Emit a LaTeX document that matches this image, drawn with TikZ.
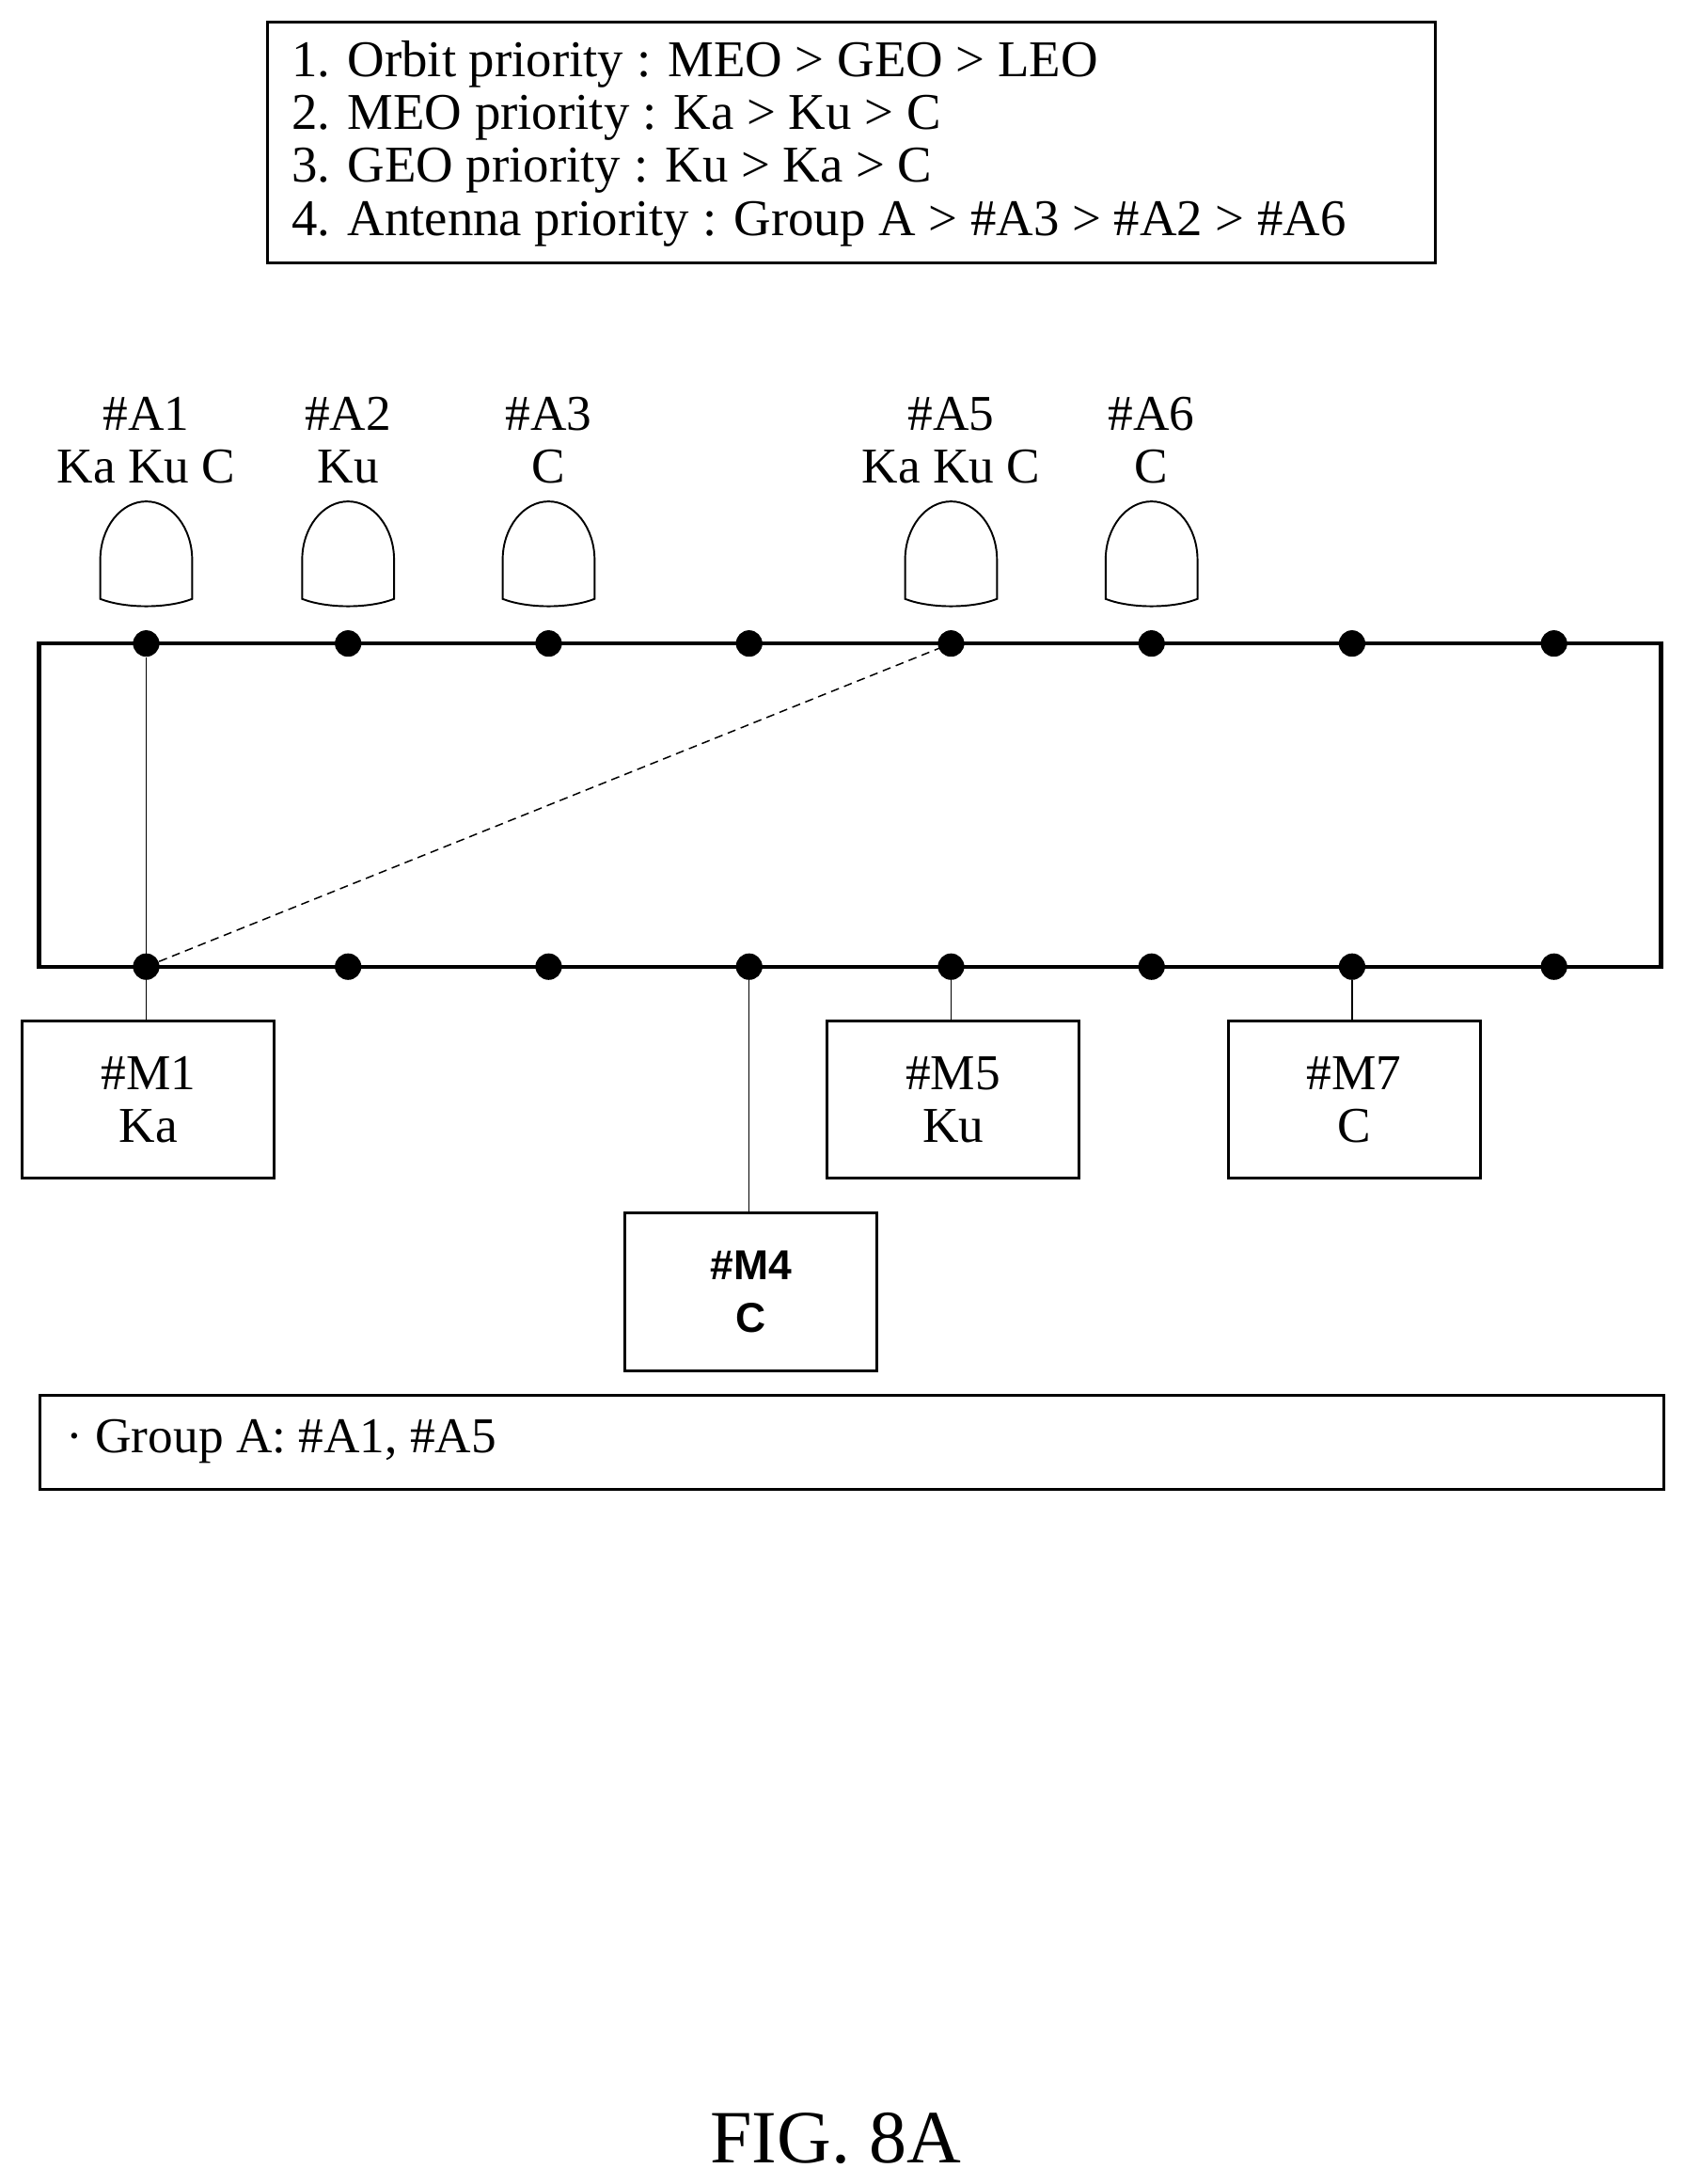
\documentclass[tikz,border=0pt]{standalone}
\usepackage{fontspec}
\setmainfont{Liberation Serif}
\newfontfamily\boldsans{Liberation Sans}
\begin{document}
\begin{tikzpicture}[x=1pt,y=-1pt,
  txt/.style={font=\fontsize{36}{38}\selectfont,align=center},
  box/.style={draw,line width=2pt,minimum width=181pt,minimum height=113pt,anchor=north west,inner sep=0pt},
  dot/.style={circle,fill=black,inner sep=0pt,minimum size=19pt},
  ant/.style={line width=1.3pt},
  link/.style={line width=1pt}]
\useasboundingbox (0,0) rectangle (1210,1568);
\node[draw,line width=2pt,minimum width=839pt,minimum height=173pt,anchor=north west,inner sep=0pt] (top) at (191,15) {};
\node[anchor=west,font=\fontsize{37}{38}\selectfont,align=left] (toptxt) at (206,103) {1. Orbit priority : MEO > GEO > LEO\\2. MEO priority : Ka > Ku > C\\3. GEO priority : Ku > Ka > C\\4. Antenna priority : Group A > \#A3 > \#A2 > \#A6};
\draw[line width=3pt] (28,462) rectangle (1193,694);
\foreach \i/\x in {1/105,2/250,3/394,4/538,5/683,6/827,7/971,8/1116}{
  \node[dot] (t\i) at (\x,462) {};
  \node[dot] (b\i) at (\x,694) {};
}
\foreach \x/\a/\b in {105/\#A1/Ka Ku C,250/\#A2/Ku,394/\#A3/C,683/\#A5/Ka Ku C,827/\#A6/C}{
  \node[txt] (lab\x) at (\x,316) {\a\\\b};
  \draw[ant] (\x-33,430) -- (\x-33,402) arc[start angle=180,end angle=360,x radius=33,y radius=42] -- (\x+33,430)
    .. controls (\x+15,437) and (\x-15,437) .. (\x-33,430) -- cycle;
}
\node[box] (m1) at (15,732) {};
\node[txt] at (m1.center) {\#M1\\Ka};
\node[box] (m5) at (593,732) {};
\node[txt] at (m5.center) {\#M5\\Ku};
\node[box] (m7) at (881,732) {};
\node[txt] at (m7.center) {\#M7\\C};
\node[box] (m4) at (448,870) {};
\node[txt,font=\boldsans\bfseries\fontsize{30}{38}\selectfont] at (m4.center) {\#M4\\C};
\draw[link] (t1) -- (m1.north -| t1);
\draw[link] (b4) -- (m4.north -| b4);
\draw[link] (b5) -- (m5.north -| b5);
\draw[link] (b7) -- (m7.north -| b7);
\draw[link,dash pattern=on 6pt off 4pt] (b1.center) -- (t5.center);
\node[draw,line width=2pt,minimum width=1166pt,minimum height=67pt,anchor=north west,inner sep=0pt] (grp) at (28,1001) {};
\node[anchor=west,font=\fontsize{36}{38}\selectfont] at (44,1035) {· Group A: \#A1, \#A5};
\node[font=\fontsize{54}{56}\selectfont] (fig) at (600,1535) {FIG. 8A};
\end{tikzpicture}
\end{document}
